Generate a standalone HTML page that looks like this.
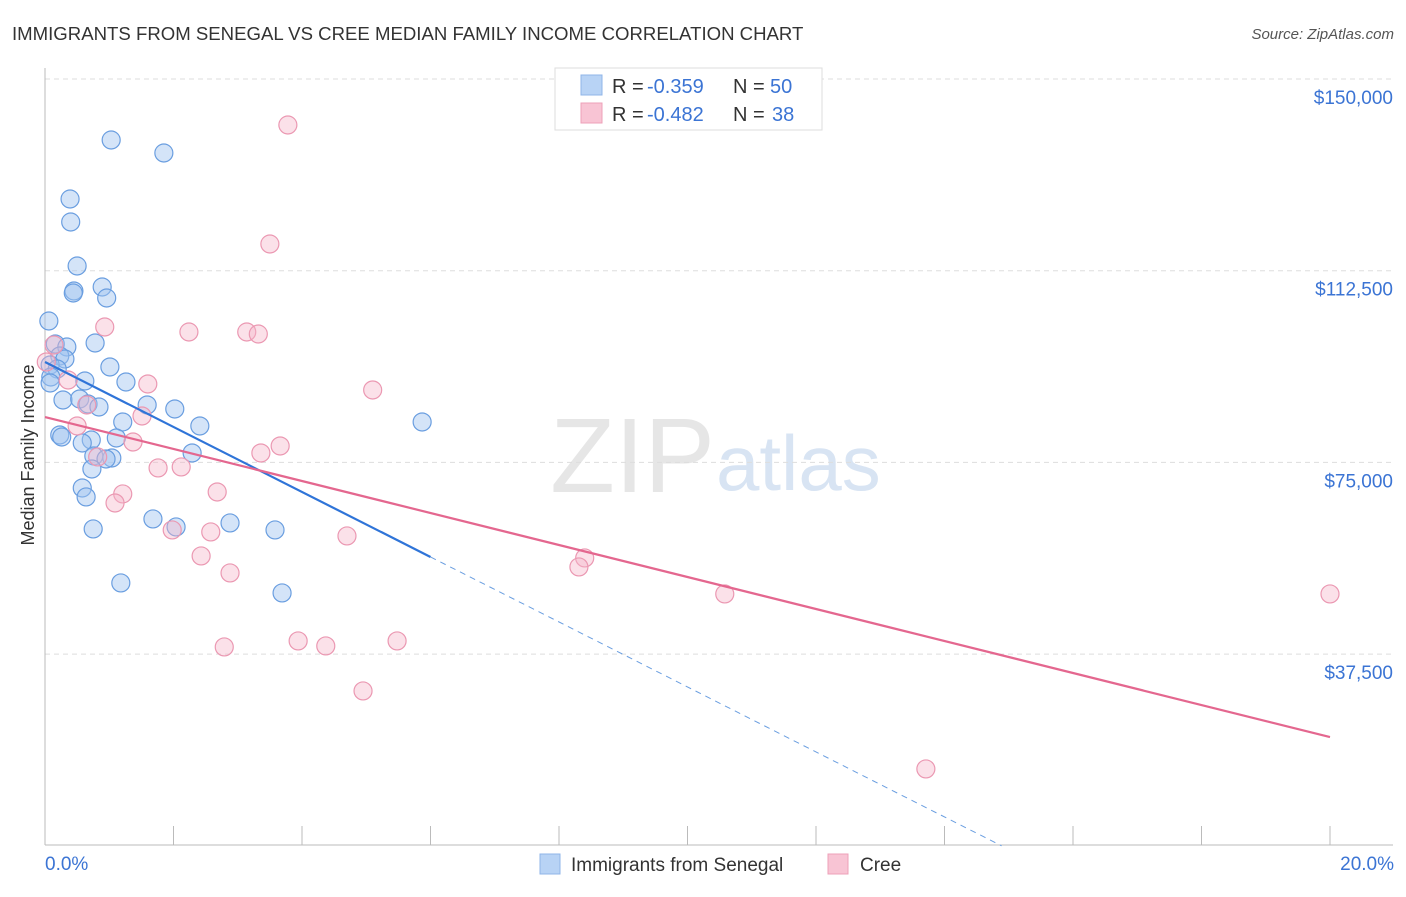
<!DOCTYPE html>
<html><head><meta charset="utf-8"><style>
body{margin:0;background:#fff;font-family:"Liberation Sans",sans-serif}
svg text{font-family:"Liberation Sans",sans-serif}
</style></head><body>
<svg id="c" width="1406" height="892" xmlns="http://www.w3.org/2000/svg">
<text x="12" y="40" font-size="18.6" fill="#333">IMMIGRANTS FROM SENEGAL VS CREE MEDIAN FAMILY INCOME CORRELATION CHART</text>
<text x="1394" y="39" font-size="15" fill="#555" text-anchor="end" font-style="italic">Source: ZipAtlas.com</text>
<text x="715" y="492" font-size="106" fill="#e6e6e6" text-anchor="end" font-family="Liberation Serif">ZIP</text>
<text x="716" y="490" font-size="78" fill="#d8e4f3">atlas</text>
<g id="grid"></g>
<g id="pts"></g>
<g id="lines"></g>
<text transform="translate(34,455) rotate(-90)" font-size="18" fill="#333" text-anchor="middle">Median Family Income</text>
<g>
<rect x="555" y="68" width="267" height="62" fill="#fff" stroke="#ddd"/>
<rect x="581" y="75" width="21" height="20" fill="#b8d3f5" stroke="#8fb5e8"/>
<rect x="581" y="103" width="21" height="20" fill="#f8c4d4" stroke="#eea0b8"/>
<text x="612" y="93" font-size="20" fill="#333">R =</text>
<text x="647" y="93" font-size="20" fill="#3b74d4">-0.359</text>
<text x="733" y="93" font-size="20" fill="#333">N =</text>
<text x="770" y="93" font-size="20" fill="#3b74d4">50</text>
<text x="612" y="121" font-size="20" fill="#333">R =</text>
<text x="647" y="121" font-size="20" fill="#3b74d4">-0.482</text>
<text x="733" y="121" font-size="20" fill="#333">N =</text>
<text x="772" y="121" font-size="20" fill="#3b74d4">38</text>
</g>
<g>
<rect x="540" y="854" width="20" height="20" fill="#b8d3f5" stroke="#8fb5e8"/>
<text x="571" y="871" font-size="19" fill="#333">Immigrants from Senegal</text>
<rect x="828" y="854" width="20" height="20" fill="#f8c4d4" stroke="#eea0b8"/>
<text x="860" y="871" font-size="19" fill="#333">Cree</text>
</g>
</svg>
<script>
const yTicks=[150000,112500,75000,37500];
const yTickLabels=["$150,000","$112,500","$75,000","$37,500"];
const xTickLabels=["0.0%","20.0%"];
const blueX=[1.03,1.85,0.39,0.40,0.50,0.45,0.44,0.89,0.96,0.06,0.78,0.16,0.34,0.23,0.31,0.08,0.19,1.01,0.09,0.08,0.62,1.26,0.28,0.54,0.67,0.84,1.59,2.02,1.21,2.41,0.23,0.26,0.72,1.11,0.58,0.76,1.04,0.95,2.29,0.73,0.58,0.64,1.68,2.04,2.88,3.58,0.75,1.18,3.69,5.87];
const blueY=[138070,135525,126528,122029,113423,108533,108142,109315,107164,102665,98362,98166,97580,95819,95233,94059,93277,93667,91711,90538,90929,90733,87212,87408,86430,85843,86234,85452,82909,82127,80366,79975,79388,79779,78802,76259,75868,75672,76846,73716,69999,68239,63936,62371,63154,61785,61980,51418,49463,82909];
const pinkX=[3.78,3.50,0.93,2.24,3.14,3.32,0.36,1.60,5.10,0.14,0.65,1.51,0.50,1.37,3.66,3.36,0.82,1.76,2.12,2.68,1.21,1.09,1.98,2.58,4.70,8.40,8.31,2.43,2.88,10.58,20.0,2.79,3.94,4.37,5.48,4.95,13.71,0.02];
const pinkY=[141002,117726,101491,100513,100513,100122,91124,90342,89169,97970,86234,84083,82127,78997,78215,76846,76064,73913,74108,69217,68826,67065,61785,61394,60612,56308,54548,56699,53373,49266,49266,38898,40071,39093,40071,30292,15036,94645];
const blueTrend=[94645,-6357];
const pinkTrend=[83880,-3130];
const X=v=>45+v/20*1285, Y=v=>79+(150000-v)/37500*191.7;
const NS="http://www.w3.org/2000/svg";
function mk(t,a,p){const e=document.createElementNS(NS,t);for(const k in a)e.setAttribute(k,a[k]);p.appendChild(e);return e;}
const g=document.getElementById('grid');
yTicks.forEach((v,i)=>{
 const l=mk('line',{x1:45,x2:1393,y1:Y(v),y2:Y(v),stroke:'#ddd','stroke-dasharray':'5,4'},g);
 
 
 const t=mk('text',{x:1393,y:Y(v)+25,'font-size':19,fill:'#3b74d4','text-anchor':'end'},g);t.textContent=yTickLabels[i];
 
 
});
const ax=mk('line',{x1:45,x2:45,y1:68,y2:845,stroke:'#bbb'},g);


const bx=mk('line',{x1:45,x2:1393,y1:845,y2:845,stroke:'#bbb'},g);


for(let i=1;i<=10;i++){const tk=mk('line',{x1:X(i*2),x2:X(i*2),y1:826,y2:845,stroke:'#bbb'},g);
 
 }
[[0,'start',45],[20,'end',1394]].forEach((a,i)=>{const t=mk('text',{x:a[2],y:870,'font-size':19,fill:'#3b74d4','text-anchor':a[1]},g);t.textContent=xTickLabels[i];
 
 });
const P=document.getElementById('pts');
blueX.forEach((x,i)=>{const c=mk('circle',{cx:X(x),cy:Y(blueY[i]),r:9,fill:'rgba(160,195,240,0.45)',stroke:'#6a9ee0','stroke-width':1.2},P);
 
 });
pinkX.forEach((x,i)=>{const c=mk('circle',{cx:X(x),cy:Y(pinkY[i]),r:9,fill:'rgba(246,180,200,0.4)',stroke:'#eb98b2','stroke-width':1.2},P);
 
 });
const L=document.getElementById('lines');
const bf=x=>blueTrend[0]+blueTrend[1]*x, pf=x=>pinkTrend[0]+pinkTrend[1]*x;
const b1=mk('line',{x1:X(0),y1:Y(bf(0)),x2:X(6),y2:Y(bf(6)),stroke:'#2f74d8','stroke-width':2.2},L);


const xz=-blueTrend[0]/blueTrend[1];
const b2=mk('line',{x1:X(6),y1:Y(bf(6)),x2:X(xz),y2:Y(0),stroke:'#6a9ee0','stroke-width':1,'stroke-dasharray':'6,5'},L);


const p1=mk('line',{x1:X(0),y1:Y(pf(0)),x2:X(20),y2:Y(pf(20)),stroke:'#e4678f','stroke-width':2.2},L);


</script>
</body></html>
